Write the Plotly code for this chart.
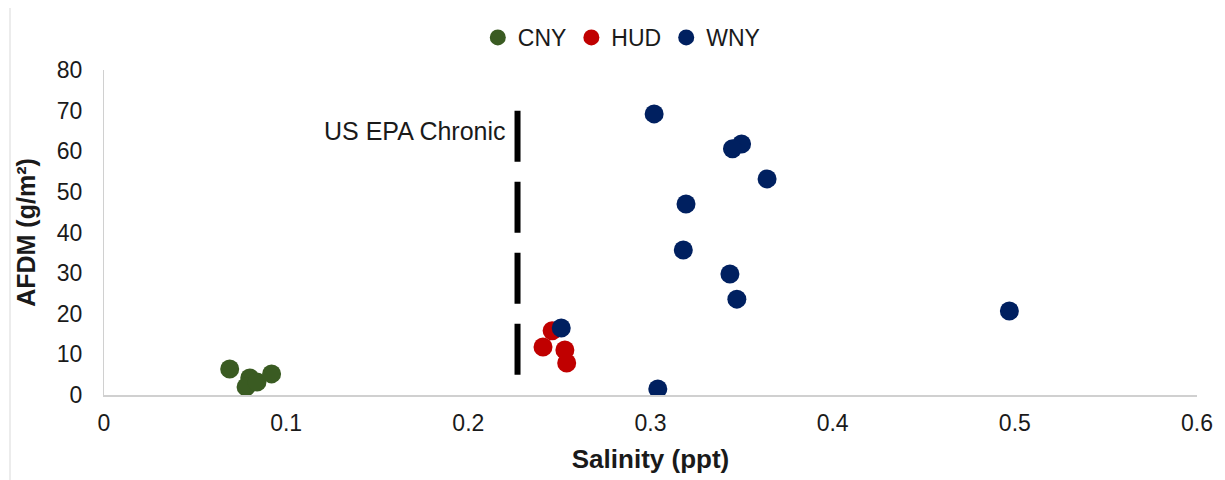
import plotly.graph_objects as go

cny_x = [0.069, 0.080, 0.078, 0.084, 0.092]
cny_y = [6.4, 4.2, 2.0, 3.2, 5.2]
hud_x = [0.246, 0.241, 0.253, 0.254]
hud_y = [15.8, 11.8, 11.1, 7.9]
wny_x = [0.251, 0.302, 0.350, 0.345, 0.364, 0.3195, 0.318, 0.3436, 0.3474, 0.304, 0.497]
wny_y = [16.5, 69.2, 61.8, 60.6, 53.2, 47.0, 35.7, 29.8, 23.6, 1.5, 20.7]
epa_x = [0.227, 0.227]
epa_y = [5, 70]

font = "Liberation Sans, Arial, sans-serif"
fig = go.Figure()
fig.add_trace(go.Scatter(x=epa_x, y=epa_y, mode="lines", showlegend=False,
                         line=dict(color="black", width=6, dash="51px,20px")))
for name, xs, ys, col in [("CNY", cny_x, cny_y, "#3a5b22"),
                          ("HUD", hud_x, hud_y, "#c00000"),
                          ("WNY", wny_x, wny_y, "#002060")]:
    fig.add_trace(go.Scatter(x=xs, y=ys, mode="markers", name=name,
                             marker=dict(color=col, size=19, line=dict(width=0))))

fig.add_annotation(x=0.227, y=65, text="US EPA Chronic", showarrow=False,
                   xanchor="right", xshift=-10, font=dict(size=25, color="#1a1a1a", family=font))

fig.update_layout(
    width=1225, height=480,
    margin=dict(l=96, r=36, t=62, b=93, autoexpand=False),
    plot_bgcolor="white", paper_bgcolor="white",
    font=dict(family=font, size=23, color="#1a1a1a"),
    legend=dict(orientation="h", x=0.342, xanchor="left", y=1.1, yanchor="middle",
                font=dict(size=23), itemsizing="trace", itemwidth=30,
                traceorder="normal", tracegroupgap=0),
    xaxis=dict(range=[0, 0.6], dtick=0.1, showgrid=False, zeroline=False,
               showline=True, linecolor="#d0d0d0", linewidth=2, ticks="",
               tickformat="~g", ticklabelstandoff=6,
               title=dict(text="<b>Salinity (ppt)</b>", font=dict(size=26), standoff=15)),
    yaxis=dict(range=[0, 80], dtick=10, showgrid=False, zeroline=False,
               showline=True, linecolor="#d0d0d0", linewidth=1, ticks="",
               ticklabelstandoff=16,
               title=dict(text="<b>AFDM (g/m²)</b>", font=dict(size=25), standoff=14)),
    shapes=[dict(type="line", xref="paper", yref="paper", x0=-0.086, x1=-0.086,
                 y0=-0.3, y1=1.25, line=dict(color="#d9d9d9", width=1))],
)
fig.write_html("out.html")
